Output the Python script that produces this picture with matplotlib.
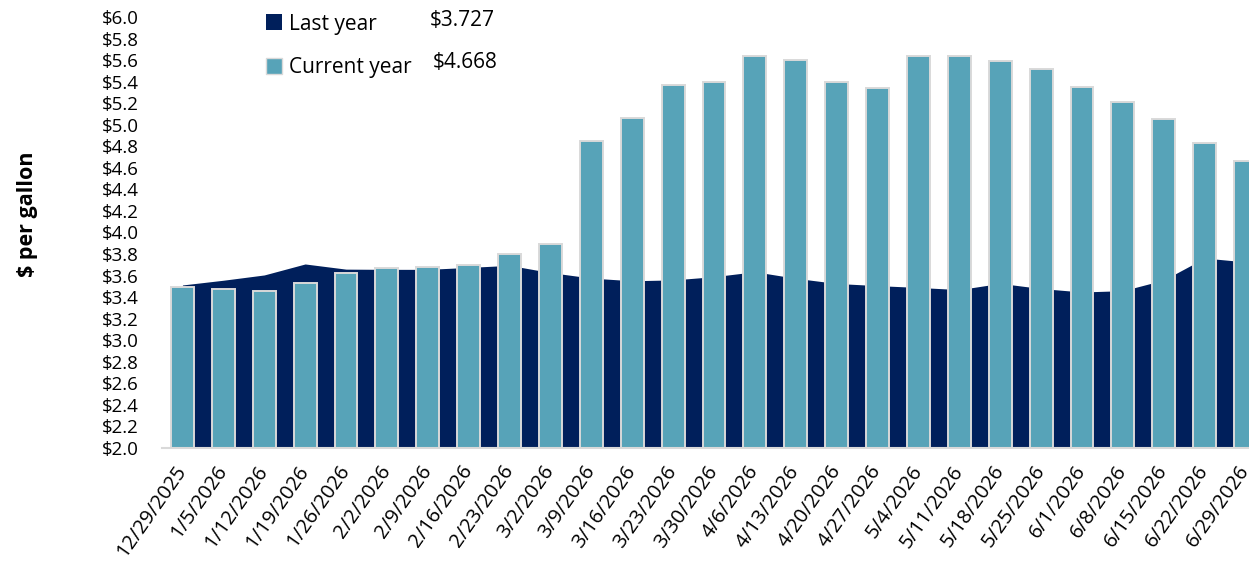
import numpy as np
import matplotlib.pyplot as plt
from matplotlib.patches import Patch
from matplotlib.ticker import FuncFormatter

plt.rcParams['font.family'] = ['Open Sans', 'DejaVu Sans']

# weekly gas price, $ per gallon
weeks = ['12/29/2025', '1/5/2026', '1/12/2026', '1/19/2026', '1/26/2026',
         '2/2/2026', '2/9/2026', '2/16/2026', '2/23/2026', '3/2/2026',
         '3/9/2026', '3/16/2026', '3/23/2026', '3/30/2026', '4/6/2026',
         '4/13/2026', '4/20/2026', '4/27/2026', '5/4/2026', '5/11/2026',
         '5/18/2026', '5/25/2026', '6/1/2026', '6/8/2026', '6/15/2026',
         '6/22/2026', '6/29/2026']
current_year = [3.497, 3.478, 3.460, 3.531, 3.624, 3.673, 3.677, 3.700, 3.800,
                3.890, 4.852, 5.065, 5.369, 5.394, 5.638, 5.601, 5.394, 5.344,
                5.638, 5.638, 5.595, 5.520, 5.348, 5.211, 5.056, 4.828, 4.668]
last_year = [3.513, 3.557, 3.606, 3.708, 3.660, 3.658, 3.658, 3.676, 3.695,
             3.628, 3.577, 3.552, 3.560, 3.590, 3.636, 3.575, 3.527, 3.507,
             3.490, 3.470, 3.528, 3.480, 3.448, 3.460, 3.559, 3.763, 3.727]
last_label = '$3.727'
current_label = '$4.668'

navy = '#001F5B'
teal = '#57A3B8'

W, H = 1249, 561
fig = plt.figure(figsize=(W / 100, H / 100), dpi=100)
ax = fig.add_axes([162 / W, 113 / H, 1104 / W, 431 / H])

x = np.arange(len(weeks))
ax.fill_between(x, 0, last_year, color=navy, lw=0, zorder=1)
ax.bar(x, current_year, width=0.56, color=teal, edgecolor='#D9D9D9',
       linewidth=1.4, zorder=2)

ax.set_xlim(-0.5, len(weeks) - 0.5)
ax.set_ylim(2.0, 6.0)
ax.set_yticks(np.arange(2.0, 6.01, 0.2))
ax.yaxis.set_major_formatter(FuncFormatter(lambda v, p: f'${v:.1f}'))
ax.set_xticks(x)
ax.set_xticklabels(weeks, rotation=55, ha='right', va='center',
                   rotation_mode='anchor')

for s in ['top', 'right', 'left']:
    ax.spines[s].set_visible(False)
ax.spines['bottom'].set_color('#D9D9D9')
ax.spines['bottom'].set_linewidth(1.5)
ax.spines['bottom'].set_zorder(3)

ax.tick_params(axis='y', length=0, pad=17, labelsize=13.5)
ax.tick_params(axis='x', length=0, pad=14, labelsize=14.5)

ax.set_ylabel('$ per gallon', fontsize=15.5, fontweight='bold')
ax.yaxis.set_label_coords(-0.112, 0.543)

handles = [Patch(facecolor=navy, edgecolor='none'),
           Patch(facecolor=teal, edgecolor='#D9D9D9')]
ax.legend(handles, ['Last year', 'Current year'], loc='upper left',
          bbox_to_anchor=(251 / W, 1 + 1 / H), bbox_transform=fig.transFigure,
          frameon=False, fontsize=15, handlelength=0.8, handleheight=0.8,
          handletextpad=0.3, labelspacing=1.1, borderpad=0.2)
fig.text(430 / W, 1 - 21 / H, last_label, fontsize=15, va='center')
fig.text(433 / W, 1 - 63 / H, current_label, fontsize=15, va='center')

fig.savefig('out.png', dpi=100)
